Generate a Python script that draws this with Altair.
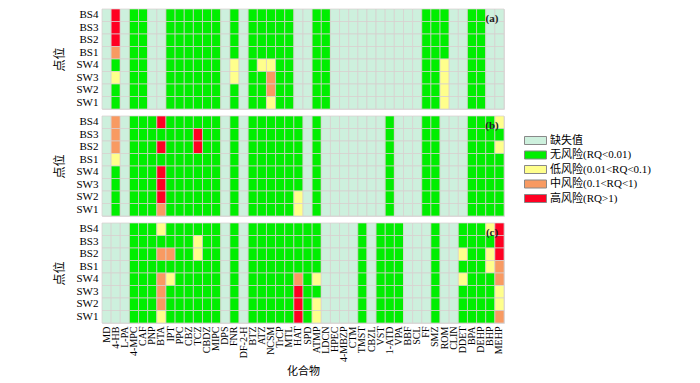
import altair as alt
import pandas as pd

compounds = ["MD", "4-HB", "L-PA", "4-MPC", "CAF", "PNP", "BTA", "IPT", "PPC", "CBZ",
             "TCZ", "CBDZ", "MIPC", "DPS", "FNR", "DF-2-H", "BTZ", "ATZ", "NCSM", "TrCP",
             "MTL", "HAT", "SPD", "ATMP", "LDCN", "HPEC", "4-MBZP", "CTM", "TMST", "CBZL",
             "VST", "1-ATD", "VPA", "BBF", "SCL", "FF", "SMZ", "ROM", "CLIN", "DDET",
             "BPA", "DEHP", "BHP", "MEHP"]
sites = ["BS4", "BS3", "BS2", "BS1", "SW4", "SW3", "SW2", "SW1"]
categories = ["缺失值", "无风险(RQ<0.01)", "低风险(0.01<RQ<0.1)", "中风险(0.1<RQ<1)", "高风险(RQ>1)"]
colors = ["#cdf0dd", "#00ee00", "#ffff8c", "#f89a62", "#ff0022"]
codes = {"X": 0, "N": 1, "L": 2, "M": 3, "H": 4}
panel_labels = ["(a)", "(b)", "(c)"]

# per compound: one code for all sites, or 8 codes (BS4..SW1)
panel_a = ["X", "HHHMNLNN", "X", "N", "N", "X", "X", "N", "N", "N",
           "N", "N", "N", "X", "NNNNLLNN", "X", "N", "NNNNLNNN", "NNNNLMML", "N",
           "N", "X", "X", "N", "N", "X", "X", "X", "X", "X",
           "X", "X", "X", "X", "X", "N", "N", "NNNNLLLL", "X", "X",
           "N", "N", "X", "X"]
panel_b = ["X", "MMMLNNNN", "X", "N", "N", "N", "HNHNHHHM", "N", "N", "N",
           "NHHNNNNN", "N", "N", "X", "N", "X", "N", "N", "N", "N",
           "N", "NNNNNNLL", "X", "N", "X", "X", "X", "X", "X", "X",
           "X", "N", "X", "X", "X", "N", "N", "X", "X", "X",
           "N", "N", "N", "LNLNNNNN"]
panel_c = ["X", "X", "X", "N", "N", "N", "LNMNMMML", "NNMNLNNN", "N", "N",
           "NLLNNNNN", "N", "N", "X", "N", "X", "N", "N", "N", "N",
           "N", "NNNNMHHH", "N", "NNNNLNLL", "X", "X", "X", "X", "N", "X",
           "N", "N", "N", "X", "X", "X", "N", "X", "X", "NNLNLNNN",
           "N", "N", "LNLLNNNN", "HHHMMLLM"]
panels = [panel_a, panel_b, panel_c]

serif = "Liberation Serif, Noto Sans CJK SC"
cjk = "Noto Sans CJK SC, Liberation Serif"


def make_df(panel):
    rows = []
    for comp, s in zip(compounds, panel):
        seq = s * 8 if len(s) == 1 else s
        for site, c in zip(sites, seq):
            rows.append({"compound": comp, "site": site, "risk": categories[codes[c]]})
    return pd.DataFrame(rows)


legend = alt.Legend(
    title=None, orient="none", legendX=427, legendY=125,
    symbolType="M-1.833,-0.667H1.833V0.667H-1.833Z", symbolSize=144,
    symbolStrokeColor="#888888", symbolStrokeWidth=1, symbolOpacity=1,
    labelFont=serif, labelFontSize=11, labelColor="#000000", labelOffset=8,
    rowPadding=1.5, labelLimit=300,
)

charts = []
for i, panel in enumerate(panels):
    df = make_df(panel)
    last = i == len(panels) - 1
    xaxis = alt.Axis(labelAngle=-90, labelFont=serif, labelFontSize=10, labelColor="#000",
                     ticks=False, domain=False, labelPadding=3, title="化合物",
                     titleFont=cjk, titleFontSize=11, titleFontWeight="normal",
                     titleColor="#000", titlePadding=4) if last else None
    base = alt.Chart(df).mark_rect(stroke="#d8cfcf", strokeWidth=0.7).encode(
        x=alt.X("compound:N", sort=compounds,
                scale=alt.Scale(paddingInner=0, paddingOuter=0), axis=xaxis),
        y=alt.Y("site:N", sort=sites, scale=alt.Scale(paddingInner=0, paddingOuter=0),
                axis=alt.Axis(title="点位", titleFont=cjk, titleFontSize=12,
                              titleFontWeight="normal", titleColor="#000",
                              titlePadding=10, labelFont=serif, labelFontSize=11,
                              labelColor="#000", ticks=False, domain=False,
                              labelPadding=4)),
        color=alt.Color("risk:N", scale=alt.Scale(domain=categories, range=colors),
                        legend=legend),
    )
    lab = alt.Chart(pd.DataFrame({"lab": [panel_labels[i]]})).mark_text(
        font=serif, fontSize=11, fontWeight="bold", color="#222", baseline="middle",
        align="center"
    ).encode(text="lab:N", x=alt.value(390), y=alt.value(10))
    charts.append(alt.layer(base, lab).properties(width=402, height=100))

chart = alt.vconcat(*charts, spacing=5).resolve_scale(color="shared").properties(
    padding={"left": 44, "top": 0, "right": 5, "bottom": 0}
).configure_view(stroke="#6a6a6a", strokeWidth=1.5).configure(background="white")

chart.save("out.html", embed_options={"renderer": "svg", "actions": False})
